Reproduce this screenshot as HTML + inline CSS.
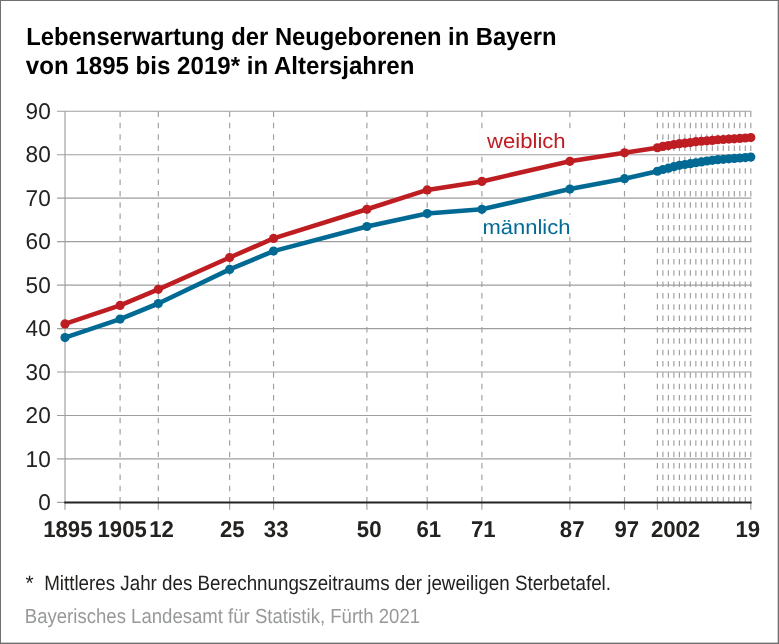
<!DOCTYPE html><html><head><meta charset="utf-8"><title>Lebenserwartung der Neugeborenen in Bayern</title><style>
html,body{margin:0;padding:0;background:#fff;}body{width:779px;height:644px;overflow:hidden;}
svg{display:block;will-change:transform;text-rendering:geometricPrecision;font-family:"Liberation Sans",Arial,Helvetica,sans-serif;}
</style></head><body>
<svg width="779" height="644" viewBox="0 0 779 644">
<g fill="#707070"><rect x="0" y="0" width="779" height="1"/><rect x="0" y="0" width="1" height="644"/><rect x="777.7" y="0" width="1.3" height="644"/><rect x="0" y="642.6" width="779" height="1.4"/></g>
<line x1="57" y1="458.94" x2="751.4" y2="458.94" stroke="#9e9e9e" stroke-width="1.15"/>
<line x1="57" y1="415.48" x2="751.4" y2="415.48" stroke="#9e9e9e" stroke-width="1.15"/>
<line x1="57" y1="372.02" x2="751.4" y2="372.02" stroke="#9e9e9e" stroke-width="1.15"/>
<line x1="57" y1="328.56" x2="751.4" y2="328.56" stroke="#9e9e9e" stroke-width="1.15"/>
<line x1="57" y1="285.10" x2="751.4" y2="285.10" stroke="#9e9e9e" stroke-width="1.15"/>
<line x1="57" y1="241.64" x2="751.4" y2="241.64" stroke="#9e9e9e" stroke-width="1.15"/>
<line x1="57" y1="198.18" x2="751.4" y2="198.18" stroke="#9e9e9e" stroke-width="1.15"/>
<line x1="57" y1="154.72" x2="751.4" y2="154.72" stroke="#9e9e9e" stroke-width="1.15"/>
<line x1="57" y1="111.26" x2="751.4" y2="111.26" stroke="#9e9e9e" stroke-width="1.15"/>
<line x1="65.00" y1="111.26" x2="65.00" y2="509.8" stroke="#9e9e9e" stroke-width="1.15"/>
<line x1="120.10" y1="111.5" x2="120.10" y2="502.4" stroke="#9e9e9e" stroke-width="1.15" stroke-dasharray="5.5 5.84"/>
<line x1="120.10" y1="502.4" x2="120.10" y2="509.8" stroke="#9e9e9e" stroke-width="1.15"/>
<line x1="158.30" y1="111.5" x2="158.30" y2="502.4" stroke="#9e9e9e" stroke-width="1.15" stroke-dasharray="5.5 5.84"/>
<line x1="158.30" y1="502.4" x2="158.30" y2="509.8" stroke="#9e9e9e" stroke-width="1.15"/>
<line x1="229.65" y1="111.5" x2="229.65" y2="502.4" stroke="#9e9e9e" stroke-width="1.15" stroke-dasharray="5.5 5.84"/>
<line x1="229.65" y1="502.4" x2="229.65" y2="509.8" stroke="#9e9e9e" stroke-width="1.15"/>
<line x1="273.55" y1="111.5" x2="273.55" y2="502.4" stroke="#9e9e9e" stroke-width="1.15" stroke-dasharray="5.5 5.84"/>
<line x1="273.55" y1="502.4" x2="273.55" y2="509.8" stroke="#9e9e9e" stroke-width="1.15"/>
<line x1="366.90" y1="111.5" x2="366.90" y2="502.4" stroke="#9e9e9e" stroke-width="1.15" stroke-dasharray="5.5 5.84"/>
<line x1="366.90" y1="502.4" x2="366.90" y2="509.8" stroke="#9e9e9e" stroke-width="1.15"/>
<line x1="427.20" y1="111.5" x2="427.20" y2="502.4" stroke="#9e9e9e" stroke-width="1.15" stroke-dasharray="5.5 5.84"/>
<line x1="427.20" y1="502.4" x2="427.20" y2="509.8" stroke="#9e9e9e" stroke-width="1.15"/>
<line x1="481.90" y1="111.5" x2="481.90" y2="502.4" stroke="#9e9e9e" stroke-width="1.15" stroke-dasharray="5.5 5.84"/>
<line x1="481.90" y1="502.4" x2="481.90" y2="509.8" stroke="#9e9e9e" stroke-width="1.15"/>
<line x1="569.90" y1="111.5" x2="569.90" y2="502.4" stroke="#9e9e9e" stroke-width="1.15" stroke-dasharray="5.5 5.84"/>
<line x1="569.90" y1="502.4" x2="569.90" y2="509.8" stroke="#9e9e9e" stroke-width="1.15"/>
<line x1="624.50" y1="111.5" x2="624.50" y2="502.4" stroke="#9e9e9e" stroke-width="1.15" stroke-dasharray="5.5 5.84"/>
<line x1="624.50" y1="502.4" x2="624.50" y2="509.8" stroke="#9e9e9e" stroke-width="1.15"/>
<line x1="657.40" y1="111.5" x2="657.40" y2="502.4" stroke="#9e9e9e" stroke-width="1.15" stroke-dasharray="5.5 5.84"/>
<line x1="657.40" y1="502.4" x2="657.40" y2="509.8" stroke="#9e9e9e" stroke-width="1.15"/>
<line x1="662.89" y1="111.5" x2="662.89" y2="502.4" stroke="#9e9e9e" stroke-width="1.15" stroke-dasharray="5.5 5.84"/>
<line x1="668.39" y1="111.5" x2="668.39" y2="502.4" stroke="#9e9e9e" stroke-width="1.15" stroke-dasharray="5.5 5.84"/>
<line x1="673.88" y1="111.5" x2="673.88" y2="502.4" stroke="#9e9e9e" stroke-width="1.15" stroke-dasharray="5.5 5.84"/>
<line x1="679.38" y1="111.5" x2="679.38" y2="502.4" stroke="#9e9e9e" stroke-width="1.15" stroke-dasharray="5.5 5.84"/>
<line x1="684.87" y1="111.5" x2="684.87" y2="502.4" stroke="#9e9e9e" stroke-width="1.15" stroke-dasharray="5.5 5.84"/>
<line x1="690.36" y1="111.5" x2="690.36" y2="502.4" stroke="#9e9e9e" stroke-width="1.15" stroke-dasharray="5.5 5.84"/>
<line x1="695.86" y1="111.5" x2="695.86" y2="502.4" stroke="#9e9e9e" stroke-width="1.15" stroke-dasharray="5.5 5.84"/>
<line x1="701.35" y1="111.5" x2="701.35" y2="502.4" stroke="#9e9e9e" stroke-width="1.15" stroke-dasharray="5.5 5.84"/>
<line x1="706.85" y1="111.5" x2="706.85" y2="502.4" stroke="#9e9e9e" stroke-width="1.15" stroke-dasharray="5.5 5.84"/>
<line x1="712.34" y1="111.5" x2="712.34" y2="502.4" stroke="#9e9e9e" stroke-width="1.15" stroke-dasharray="5.5 5.84"/>
<line x1="717.83" y1="111.5" x2="717.83" y2="502.4" stroke="#9e9e9e" stroke-width="1.15" stroke-dasharray="5.5 5.84"/>
<line x1="723.33" y1="111.5" x2="723.33" y2="502.4" stroke="#9e9e9e" stroke-width="1.15" stroke-dasharray="5.5 5.84"/>
<line x1="728.82" y1="111.5" x2="728.82" y2="502.4" stroke="#9e9e9e" stroke-width="1.15" stroke-dasharray="5.5 5.84"/>
<line x1="734.32" y1="111.5" x2="734.32" y2="502.4" stroke="#9e9e9e" stroke-width="1.15" stroke-dasharray="5.5 5.84"/>
<line x1="739.81" y1="111.5" x2="739.81" y2="502.4" stroke="#9e9e9e" stroke-width="1.15" stroke-dasharray="5.5 5.84"/>
<line x1="745.30" y1="111.5" x2="745.30" y2="502.4" stroke="#9e9e9e" stroke-width="1.15" stroke-dasharray="5.5 5.84"/>
<line x1="750.80" y1="111.5" x2="750.80" y2="502.4" stroke="#9e9e9e" stroke-width="1.15" stroke-dasharray="5.5 5.84"/>
<line x1="750.80" y1="502.4" x2="750.80" y2="509.8" stroke="#9e9e9e" stroke-width="1.15"/>
<line x1="57" y1="502.4" x2="65" y2="502.4" stroke="#9e9e9e" stroke-width="1.15"/>
<line x1="64.3" y1="502.45" x2="751.6" y2="502.45" stroke="#242220" stroke-width="1.95"/>
<text transform="translate(38.19 510.07) scale(1.0276 1.0355)" font-size="22" fill="#242220">0</text>
<text transform="translate(25.60 466.61) scale(1.0276 1.0355)" font-size="22" fill="#242220">10</text>
<text transform="translate(25.60 423.15) scale(1.0276 1.0355)" font-size="22" fill="#242220">20</text>
<text transform="translate(25.60 379.69) scale(1.0276 1.0355)" font-size="22" fill="#242220">30</text>
<text transform="translate(25.60 336.23) scale(1.0276 1.0355)" font-size="22" fill="#242220">40</text>
<text transform="translate(25.60 292.77) scale(1.0276 1.0355)" font-size="22" fill="#242220">50</text>
<text transform="translate(25.60 249.31) scale(1.0276 1.0355)" font-size="22" fill="#242220">60</text>
<text transform="translate(25.60 205.85) scale(1.0276 1.0355)" font-size="22" fill="#242220">70</text>
<text transform="translate(25.60 162.39) scale(1.0276 1.0355)" font-size="22" fill="#242220">80</text>
<text transform="translate(25.60 118.93) scale(1.0276 1.0355)" font-size="22" fill="#242220">90</text>
<text transform="translate(43.19 536.6) scale(1.0075 1.0367)" font-size="22" font-weight="bold" fill="#242220">1895</text>
<text transform="translate(97.49 536.6) scale(1.0075 1.0367)" font-size="22" font-weight="bold" fill="#242220">1905</text>
<text transform="translate(149.16 536.6) scale(1.0075 1.0367)" font-size="22" font-weight="bold" fill="#242220">12</text>
<text transform="translate(219.91 536.6) scale(1.0075 1.0367)" font-size="22" font-weight="bold" fill="#242220">25</text>
<text transform="translate(263.83 536.6) scale(1.0075 1.0367)" font-size="22" font-weight="bold" fill="#242220">33</text>
<text transform="translate(356.83 536.6) scale(1.0075 1.0367)" font-size="22" font-weight="bold" fill="#242220">50</text>
<text transform="translate(416.41 536.6) scale(1.0075 1.0367)" font-size="22" font-weight="bold" fill="#242220">61</text>
<text transform="translate(470.88 536.6) scale(1.0075 1.0367)" font-size="22" font-weight="bold" fill="#242220">71</text>
<text transform="translate(559.83 536.6) scale(1.0075 1.0367)" font-size="22" font-weight="bold" fill="#242220">87</text>
<text transform="translate(614.53 536.6) scale(1.0075 1.0367)" font-size="22" font-weight="bold" fill="#242220">97</text>
<text transform="translate(650.89 536.6) scale(1.0075 1.0367)" font-size="22" font-weight="bold" fill="#242220">2002</text>
<text transform="translate(735.43 536.6) scale(1.0075 1.0367)" font-size="22" font-weight="bold" fill="#242220">19</text>
<rect x="477.9" y="129.9" width="95.6" height="21" fill="#fdfdfd"/>
<rect x="477.9" y="214.7" width="95.6" height="22" fill="#fdfdfd"/>
<text transform="translate(26.31 44.70) scale(0.9914 1.0368)" font-size="24" font-weight="bold" fill="#000">Lebenserwartung der Neugeborenen in Bayern</text>
<text transform="translate(25.85 73.85) scale(1.0034 1.0368)" font-size="24" font-weight="bold" fill="#000">von 1895 bis 2019* in Altersjahren</text>
<text transform="translate(487.05 147.75) scale(1.0039 0.9431)" font-size="22" font-weight="normal" fill="#be1e22">weiblich</text>
<text transform="translate(482.54 233.80) scale(0.9984 0.9331)" font-size="22" font-weight="normal" fill="#006a94">männlich</text>
<text transform="translate(25.48 590.24) scale(1.0429 1.0429)" font-size="20" font-weight="normal" fill="#242220">*</text>
<text transform="translate(44.16 589.80) scale(0.9390 1.0349)" font-size="20" font-weight="normal" fill="#242220">Mittleres Jahr des Berechnungszeitraums der jeweiligen Sterbetafel.</text>
<text transform="translate(24.78 622.75) scale(0.9284 1.0218)" font-size="20" font-weight="normal" fill="#979999">Bayerisches Landesamt für Statistik, Fürth 2021</text>
<polyline points="65.00,323.90 120.10,305.40 158.30,289.30 229.65,257.50 273.55,238.40 366.90,209.30 427.20,189.90 481.90,181.40 569.90,161.35 624.50,152.80 657.40,147.77 662.89,146.46 668.39,145.59 673.88,144.51 679.38,143.64 684.87,143.20 690.36,142.55 695.86,141.68 701.35,141.25 706.85,140.81 712.34,140.38 717.83,139.73 723.33,139.51 728.82,139.07 734.32,138.86 739.81,138.42 745.30,137.99 750.80,137.55" fill="none" stroke="#be1e22" stroke-width="4.6" stroke-linejoin="round"/>
<circle cx="65.00" cy="323.90" r="4.6" fill="#be1e22"/>
<circle cx="120.10" cy="305.40" r="4.6" fill="#be1e22"/>
<circle cx="158.30" cy="289.30" r="4.6" fill="#be1e22"/>
<circle cx="229.65" cy="257.50" r="4.6" fill="#be1e22"/>
<circle cx="273.55" cy="238.40" r="4.6" fill="#be1e22"/>
<circle cx="366.90" cy="209.30" r="4.6" fill="#be1e22"/>
<circle cx="427.20" cy="189.90" r="4.6" fill="#be1e22"/>
<circle cx="481.90" cy="181.40" r="4.6" fill="#be1e22"/>
<circle cx="569.90" cy="161.35" r="4.6" fill="#be1e22"/>
<circle cx="624.50" cy="152.80" r="4.6" fill="#be1e22"/>
<circle cx="657.40" cy="147.77" r="4.6" fill="#be1e22"/>
<circle cx="662.89" cy="146.46" r="4.6" fill="#be1e22"/>
<circle cx="668.39" cy="145.59" r="4.6" fill="#be1e22"/>
<circle cx="673.88" cy="144.51" r="4.6" fill="#be1e22"/>
<circle cx="679.38" cy="143.64" r="4.6" fill="#be1e22"/>
<circle cx="684.87" cy="143.20" r="4.6" fill="#be1e22"/>
<circle cx="690.36" cy="142.55" r="4.6" fill="#be1e22"/>
<circle cx="695.86" cy="141.68" r="4.6" fill="#be1e22"/>
<circle cx="701.35" cy="141.25" r="4.6" fill="#be1e22"/>
<circle cx="706.85" cy="140.81" r="4.6" fill="#be1e22"/>
<circle cx="712.34" cy="140.38" r="4.6" fill="#be1e22"/>
<circle cx="717.83" cy="139.73" r="4.6" fill="#be1e22"/>
<circle cx="723.33" cy="139.51" r="4.6" fill="#be1e22"/>
<circle cx="728.82" cy="139.07" r="4.6" fill="#be1e22"/>
<circle cx="734.32" cy="138.86" r="4.6" fill="#be1e22"/>
<circle cx="739.81" cy="138.42" r="4.6" fill="#be1e22"/>
<circle cx="745.30" cy="137.99" r="4.6" fill="#be1e22"/>
<circle cx="750.80" cy="137.55" r="4.6" fill="#be1e22"/>
<polyline points="65.00,337.60 120.10,319.10 158.30,303.50 229.65,269.40 273.55,251.10 366.90,226.50 427.20,213.50 481.90,209.30 569.90,189.10 624.50,178.70 657.40,171.23 662.89,169.50 668.39,168.19 673.88,166.67 679.38,165.37 684.87,164.50 690.36,163.63 695.86,162.76 701.35,161.89 706.85,161.02 712.34,160.37 717.83,159.72 723.33,159.28 728.82,158.85 734.32,158.41 739.81,157.98 745.30,157.54 750.80,157.11" fill="none" stroke="#006a94" stroke-width="4.6" stroke-linejoin="round"/>
<circle cx="65.00" cy="337.60" r="4.6" fill="#006a94"/>
<circle cx="120.10" cy="319.10" r="4.6" fill="#006a94"/>
<circle cx="158.30" cy="303.50" r="4.6" fill="#006a94"/>
<circle cx="229.65" cy="269.40" r="4.6" fill="#006a94"/>
<circle cx="273.55" cy="251.10" r="4.6" fill="#006a94"/>
<circle cx="366.90" cy="226.50" r="4.6" fill="#006a94"/>
<circle cx="427.20" cy="213.50" r="4.6" fill="#006a94"/>
<circle cx="481.90" cy="209.30" r="4.6" fill="#006a94"/>
<circle cx="569.90" cy="189.10" r="4.6" fill="#006a94"/>
<circle cx="624.50" cy="178.70" r="4.6" fill="#006a94"/>
<circle cx="657.40" cy="171.23" r="4.6" fill="#006a94"/>
<circle cx="662.89" cy="169.50" r="4.6" fill="#006a94"/>
<circle cx="668.39" cy="168.19" r="4.6" fill="#006a94"/>
<circle cx="673.88" cy="166.67" r="4.6" fill="#006a94"/>
<circle cx="679.38" cy="165.37" r="4.6" fill="#006a94"/>
<circle cx="684.87" cy="164.50" r="4.6" fill="#006a94"/>
<circle cx="690.36" cy="163.63" r="4.6" fill="#006a94"/>
<circle cx="695.86" cy="162.76" r="4.6" fill="#006a94"/>
<circle cx="701.35" cy="161.89" r="4.6" fill="#006a94"/>
<circle cx="706.85" cy="161.02" r="4.6" fill="#006a94"/>
<circle cx="712.34" cy="160.37" r="4.6" fill="#006a94"/>
<circle cx="717.83" cy="159.72" r="4.6" fill="#006a94"/>
<circle cx="723.33" cy="159.28" r="4.6" fill="#006a94"/>
<circle cx="728.82" cy="158.85" r="4.6" fill="#006a94"/>
<circle cx="734.32" cy="158.41" r="4.6" fill="#006a94"/>
<circle cx="739.81" cy="157.98" r="4.6" fill="#006a94"/>
<circle cx="745.30" cy="157.54" r="4.6" fill="#006a94"/>
<circle cx="750.80" cy="157.11" r="4.6" fill="#006a94"/>
</svg></body></html>
